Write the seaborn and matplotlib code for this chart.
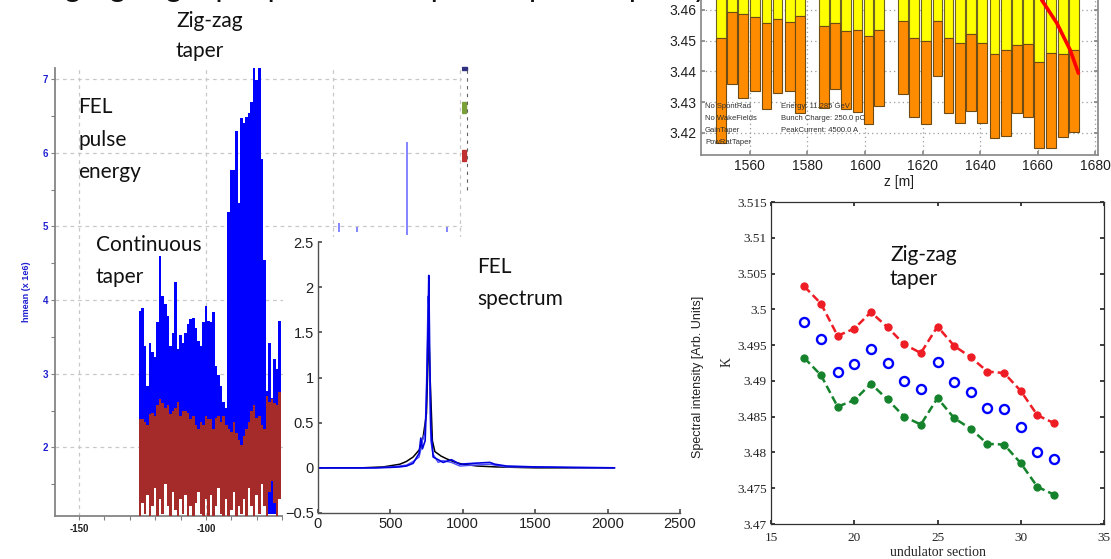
import numpy as np
import matplotlib
matplotlib.use("Agg")
import matplotlib.pyplot as plt
import seaborn as sns
from matplotlib.patches import Rectangle

# ---------------- data ----------------
# FEL pulse energy (x 1e6) - left panel
pulse_pos = list(range(-126, -70))
blue_hi = [3.85, 3.89, 3.38, 2.84, 3.42, 3.30, 3.23, 3.70, 4.60, 4.05,
           3.95, 3.79, 3.38, 3.55, 4.24, 3.34, 3.52, 3.42, 3.55, 3.68,
           3.74, 3.76, 3.62, 3.45, 3.38, 3.70, 3.92, 3.72, 3.70, 3.84,
           3.10, 2.98, 2.84, 2.62, 2.53, 5.19, 5.77, 5.77, 6.29, 5.32,
           6.47, 6.40, 6.49, 6.54, 6.69, 7.15, 6.99, 7.15, 5.91, 4.55,
           2.76, 3.42, 2.67, 3.20, 3.07, 3.72]
blue_lo = [2.0] * 50 + [1.10, 1.10, 1.10, 1.10, 2.0, 2.0]
red_hi = [2.39, 2.39, 2.35, 2.30, 2.45, 2.47, 2.43, 2.57, 2.66, 2.60,
          2.53, 2.57, 2.45, 2.50, 2.53, 2.62, 2.43, 2.50, 2.50, 2.47,
          2.39, 2.43, 2.30, 2.25, 2.34, 2.30, 2.43, 2.39, 2.39, 2.25,
          2.40, 2.43, 2.34, 2.43, 2.30, 2.25, 2.21, 2.34, 2.20, 2.10,
          2.03, 2.16, 2.25, 2.35, 2.50, 2.57, 2.40, 2.43, 2.30, 2.25,
          2.70, 2.62, 2.66, 2.60, 2.57, 2.75]
red_lo = [1.00, 1.25, 1.10, 1.35, 1.00, 1.20, 1.45, 1.00, 1.30, 1.10,
          1.50, 1.20, 1.00, 1.40, 1.15, 1.00, 1.30, 1.10, 1.35, 1.00,
          1.20, 1.00, 1.25, 1.40, 1.10, 1.00, 1.30, 1.05, 1.35, 1.00,
          1.20, 1.45, 1.10, 1.00, 1.30, 1.00, 1.15, 1.40, 1.00, 1.20,
          1.10, 1.30, 1.00, 1.45, 1.20, 1.00, 1.35, 1.10, 1.50, 1.20,
          1.00, 1.40, 1.55, 1.25, 1.00, 1.30]
stray_pos = [-47.5, -40.5, -21.0, -5.0]
stray_lo = [4.92, 4.93, 4.88, 4.93]
stray_hi = [5.05, 4.99, 6.15, 4.99]

# FEL spectrum
spec_x = [0, 200, 400, 500, 560, 611, 657, 698, 710, 721, 740, 749, 760, 765,
          772, 779, 795, 830, 864, 922, 980, 1072, 1187, 1221, 1302, 1500, 1800, 2048]
spec_a = [0, 0, 0, 0.005, 0.01, 0.02, 0.05, 0.16, 0.33, 0.21, 0.30, 0.75, 1.56, 2.13,
          1.19, 0.45, 0.12, 0.09, 0.06, 0.09, 0.04, 0.05, 0.06, 0.04, 0.02, 0.01, 0.005, 0]
spec_b = [0, 0, 0, 0.01, 0.02, 0.03, 0.07, 0.12, 0.20, 0.30, 0.40, 0.90, 1.90, 1.80,
          0.90, 0.30, 0.15, 0.06, 0.08, 0.06, 0.02, 0.03, 0.04, 0.03, 0.01, 0.01, 0, 0]
fit_x = [0, 300, 450, 565, 610, 657, 700, 726, 749, 760, 766, 772, 790, 807,
         850, 888, 950, 1001, 1100, 1233, 1500, 2048]
fit_y = [0, 0, 0.01, 0.04, 0.07, 0.12, 0.20, 0.34, 0.60, 1.20, 1.50, 1.10, 0.30, 0.18,
         0.13, 0.10, 0.06, 0.04, 0.02, 0.01, 0, 0]

# Undulator K vs z (top right)
bar_z = [1549.9, 1553.8, 1557.7, 1561.9, 1565.8, 1569.6, 1573.9, 1577.5,
         1585.7, 1589.6, 1593.4, 1597.4, 1601.2, 1605.0,
         1613.1, 1617.0, 1621.1, 1625.2, 1629.0, 1633.0, 1636.9, 1640.8,
         1645.0, 1648.9, 1652.8, 1656.8, 1660.6, 1664.7, 1668.8, 1672.7]
bar_mid = [3.4510, 3.4593, 3.4588, 3.4577, 3.4557, 3.4570, 3.4560, 3.4580,
           3.4548, 3.4558, 3.4533, 3.4535, 3.4515, 3.4535,
           3.4565, 3.4510, 3.4500, 3.4565, 3.4510, 3.4494, 3.4522, 3.4494,
           3.4458, 3.4470, 3.4485, 3.4488, 3.4432, 3.4459, 3.4457, 3.4470]
bar_low = [3.4166, 3.4358, 3.4314, 3.4337, 3.4276, 3.4331, 3.4337, 3.4264,
           3.4280, 3.4341, 3.4276, 3.4268, 3.4227, 3.4286,
           3.4326, 3.4251, 3.4227, 3.4386, 3.4264, 3.4231, 3.4271, 3.4231,
           3.4182, 3.4190, 3.4264, 3.4251, 3.4151, 3.4151, 3.4187, 3.4201]
bar_top = 3.48
red_z = [1661.4, 1666.7, 1671.3, 1674.2]
red_k = [3.4633, 3.4557, 3.4470, 3.4394]

# K per undulator section (bottom right)
sections = list(range(17, 33))
k_red = [3.5032, 3.5008, 3.4963, 3.4973, 3.4996, 3.4975, 3.4951, 3.4939,
         3.4976, 3.4949, 3.4933, 3.4913, 3.4911, 3.4886, 3.4852, 3.4841]
k_blue = [3.4982, 3.4958, 3.4913, 3.4923, 3.4945, 3.4925, 3.4900, 3.4889,
          3.4926, 3.4898, 3.4884, 3.4862, 3.4861, 3.4836, 3.4801, 3.4791]
k_green = [3.4932, 3.4908, 3.4864, 3.4873, 3.4896, 3.4874, 3.4850, 3.4839,
           3.4876, 3.4848, 3.4833, 3.4812, 3.4811, 3.4785, 3.4752, 3.4741]

# ---------------- figure ----------------
sns.set_theme(style="white")
plt.rcParams["font.family"] = ["Liberation Sans", "DejaVu Sans"]

W, H = 1111, 559
fig = plt.figure(figsize=(W / 100, H / 100), dpi=100)
fig.patch.set_facecolor("white")


def box(l, t, r, b):
    return [l / W, 1 - b / H, (r - l) / W, (b - t) / H]


def ftext(x, y, s, **kw):
    return fig.text(x / W, 1 - y / H, s, **kw)


# ---- left: FEL pulse energy ----
axL = fig.add_axes(box(55, 68, 462, 516))
axL.set_zorder(1)
axL.set_facecolor("white")
axL.bar(pulse_pos, np.subtract(blue_hi, blue_lo), bottom=blue_lo, width=1.02,
        color="#0000ff", linewidth=0, zorder=2)
axL.bar(pulse_pos, np.subtract(red_hi, red_lo), bottom=red_lo, width=1.02,
        color="#a52a2a", linewidth=0, zorder=3)
axL.vlines(stray_pos, stray_lo, stray_hi, color="#7070ff", linewidth=1.2, zorder=2)
axL.set_xlim(-159.4, 0.8)
axL.set_ylim(1.07, 7.15)
axL.set_xticks([-150, -100, -50, 0])
axL.set_xticks(np.arange(-150, 1, 10), minor=True)
axL.set_yticks([2, 3, 4, 5, 6, 7])
axL.set_yticks(np.arange(1.5, 7.1, 0.5), minor=True)
axL.set_xticklabels(["-150", "-100", "", ""])
axL.grid(True, which="major", linestyle=(0, (3, 3)), color="#c8c8c8", linewidth=0.9)
for s in ["top", "right"]:
    axL.spines[s].set_visible(False)
for s in ["left", "bottom"]:
    axL.spines[s].set_color("#808080")
axL.tick_params(axis="both", which="both", direction="out", color="#808080",
                length=3, width=0.8, bottom=True, left=True)
axL.tick_params(axis="y", labelcolor="#2020d0", labelsize=7, pad=2)
axL.tick_params(axis="x", labelcolor="#202020", labelsize=7, pad=3)
for lab in axL.get_xticklabels() + axL.get_yticklabels():
    lab.set_fontweight("bold")
axL.set_ylabel("hmean (x 1e6)", color="#2020d0", fontsize=6.5, fontweight="bold", labelpad=8)

# legend fragments at the cut edge of the left figure
axF = fig.add_axes(box(458, 60, 472, 200))
axF.set_axis_off()
axF.set_xlim(0, 1); axF.set_ylim(1, 0)
axF.add_patch(Rectangle((0.3, 0.3), 0.3, 0.08, color="#7aa03a"))
axF.add_patch(Rectangle((0.3, 0.64), 0.3, 0.08, color="#c03030"))
axF.add_patch(Rectangle((0.3, 0.05), 0.35, 0.02, color="#303080"))
axF.vlines(0.65, 0.07, 0.95, color="#606060", linewidth=0.8, linestyles=(0, (3, 4)))

# ---- white panel behind the spectrum ----
axP = fig.add_axes(box(283, 237, 700, 559))
axP.set_zorder(2)
axP.set_facecolor("white")
axP.set_xticks([]); axP.set_yticks([])
for s in axP.spines.values():
    s.set_visible(False)

# ---- spectrum ----
axS = fig.add_axes(box(318, 242, 680, 513))
axS.set_zorder(3)
axS.set_facecolor("none")
sns.lineplot(x=fit_x, y=fit_y, ax=axS, color="black", linewidth=1.1)
sns.lineplot(x=spec_x, y=spec_b, ax=axS, color="#4a4aff", linewidth=1.0)
sns.lineplot(x=spec_x, y=spec_a, ax=axS, color="#0000e0", linewidth=1.2)
axS.set_xlim(0, 2500)
axS.set_ylim(-0.5, 2.5)
axS.set_xticks([0, 500, 1000, 1500, 2000, 2500])
axS.set_yticks([-0.5, 0, 0.5, 1, 1.5, 2, 2.5])
axS.set_yticklabels(["\u22120.5", "0", "0.5", "1", "1.5", "2", "2.5"])
for s in ["top", "right"]:
    axS.spines[s].set_visible(False)
for s in ["left", "bottom"]:
    axS.spines[s].set_color("#505050")
    axS.spines[s].set_linewidth(1.0)
axS.tick_params(axis="both", direction="in", length=3, color="#505050",
                labelsize=10.5, labelcolor="#202020", bottom=True, left=True, pad=3)

# ---- top right: K along the undulator ----
axT = fig.add_axes(box(701, -20.7, 1098, 155))
axT.set_zorder(1)
axT.bar(bar_z, np.subtract(bar_top, bar_mid), bottom=bar_mid, width=3.4,
        color="#ffff00", edgecolor="#6e6424", linewidth=0.8, zorder=2)
axT.bar(bar_z, np.subtract(bar_mid, bar_low), bottom=bar_low, width=3.4,
        color="#ff8c00", edgecolor="#6e4a14", linewidth=0.8, zorder=2)
sns.lineplot(x=red_z, y=red_k, ax=axT, color="#ff0000", linewidth=2.6, zorder=3)
axT.set_xlim(1543, 1681)
axT.set_ylim(3.41274, 3.47)
axT.set_xticks([1560, 1580, 1600, 1620, 1640, 1660, 1680])
axT.set_yticks([3.42, 3.43, 3.44, 3.45, 3.46])
axT.set_yticklabels(["3.42", "3.43", "3.44", "3.45", "3.46"])
axT.grid(True, linestyle=(0, (1, 2.5)), color="#9a9a9a", linewidth=0.9, zorder=0)
axT.set_axisbelow(True)
for s in axT.spines.values():
    s.set_color("#8a8a8a")
axT.tick_params(axis="both", direction="in", length=3, color="#8a8a8a",
                labelsize=10, labelcolor="#202020", bottom=True, left=True,
                top=True, right=True, pad=3)
axT.set_xlabel("z [m]", fontsize=10, labelpad=1, color="#202020")
for i, s in enumerate(["No SpontRad", "No WakeFields", "GainTaper", "PowRatTaper"]):
    ftext(705, 106 + 12.3 * i, s, fontsize=5.5, color="#303030", va="center")
for i, s in enumerate(["Energy: 11.285 GeV", "Bunch Charge: 250.0 pC", "PeakCurrent: 4500.0 A"]):
    ftext(781, 106 + 12.3 * i, s, fontsize=5.5, color="#303030", va="center")

# ---- bottom right: K per undulator section ----
axK = fig.add_axes(box(771, 202, 1104, 524))
axK.set_zorder(4)
sns.lineplot(x=sections, y=k_red, ax=axK, color="#ee1c24", linestyle=(0, (3.2, 1.6)),
             linewidth=1.8, marker="o", markersize=5.2, markeredgecolor="#ee1c24")
sns.lineplot(x=sections, y=k_green, ax=axK, color="#15822c", linestyle=(0, (3.2, 1.6)),
             linewidth=1.8, marker="o", markersize=5.2, markeredgecolor="#15822c")
sns.lineplot(x=sections, y=k_blue, ax=axK, color="#0000ff", linestyle="none",
             marker="o", markersize=6.5, markerfacecolor="none",
             markeredgecolor="#0000ff", markeredgewidth=1.7)
axK.set_xlim(15, 35)
axK.set_ylim(3.47, 3.515)
axK.set_xticks([15, 20, 25, 30, 35])
axK.set_yticks([3.47, 3.475, 3.48, 3.485, 3.49, 3.495, 3.5, 3.505, 3.51, 3.515])
axK.set_yticklabels(["3.47", "3.475", "3.48", "3.485", "3.49", "3.495", "3.5",
                     "3.505", "3.51", "3.515"])
for s in axK.spines.values():
    s.set_color("#303030")
    s.set_linewidth(0.9)
axK.tick_params(axis="both", direction="in", length=3, labelsize=9.5,
                bottom=True, left=True, top=True, right=True)
axK.tick_params(axis="x", pad=6)
axK.tick_params(axis="y", pad=3)
for lab in axK.get_xticklabels() + axK.get_yticklabels():
    lab.set_fontfamily(["Liberation Serif", "DejaVu Serif"])
axK.set_xlabel("undulator section", fontsize=10, family=["Liberation Serif", "DejaVu Serif"],
               labelpad=1)
axK.set_ylabel("")
ftext(727, 362, "K", fontsize=10, family=["Liberation Serif", "DejaVu Serif"],
      ha="center", va="center", rotation=90)
ftext(698, 377, "Spectral intensity [Arb. Units]", fontsize=9, rotation=90,
      ha="center", va="center", color="#202020")

# ---- slide annotations ----
ann = dict(fontsize=15, family=["Lato", "DejaVu Sans"], color="#111111", va="baseline",
           zorder=10)
ftext(176, 27, "Zig-zag", **ann)
ftext(176, 57, "taper", **ann)
ftext(78, 113, "FEL", **ann)
ftext(78, 146, "pulse", **ann)
ftext(78, 178, "energy", **ann)
ftext(96, 251, "Continuous", **ann)
ftext(96, 283, "taper", **ann)
ftext(477, 273, "FEL", **ann)
ftext(477, 305, "spectrum", **ann)
ftext(890, 261, "Zig-zag", **ann)
ftext(890, 285, "taper", **ann)
ftext(5, -2.5, "Using zig-zag taper profile to improve spectral purity", fontsize=22,
      family=["Lato", "DejaVu Sans"], color="#111111", va="baseline")

fig.savefig("out.png", dpi=100)
